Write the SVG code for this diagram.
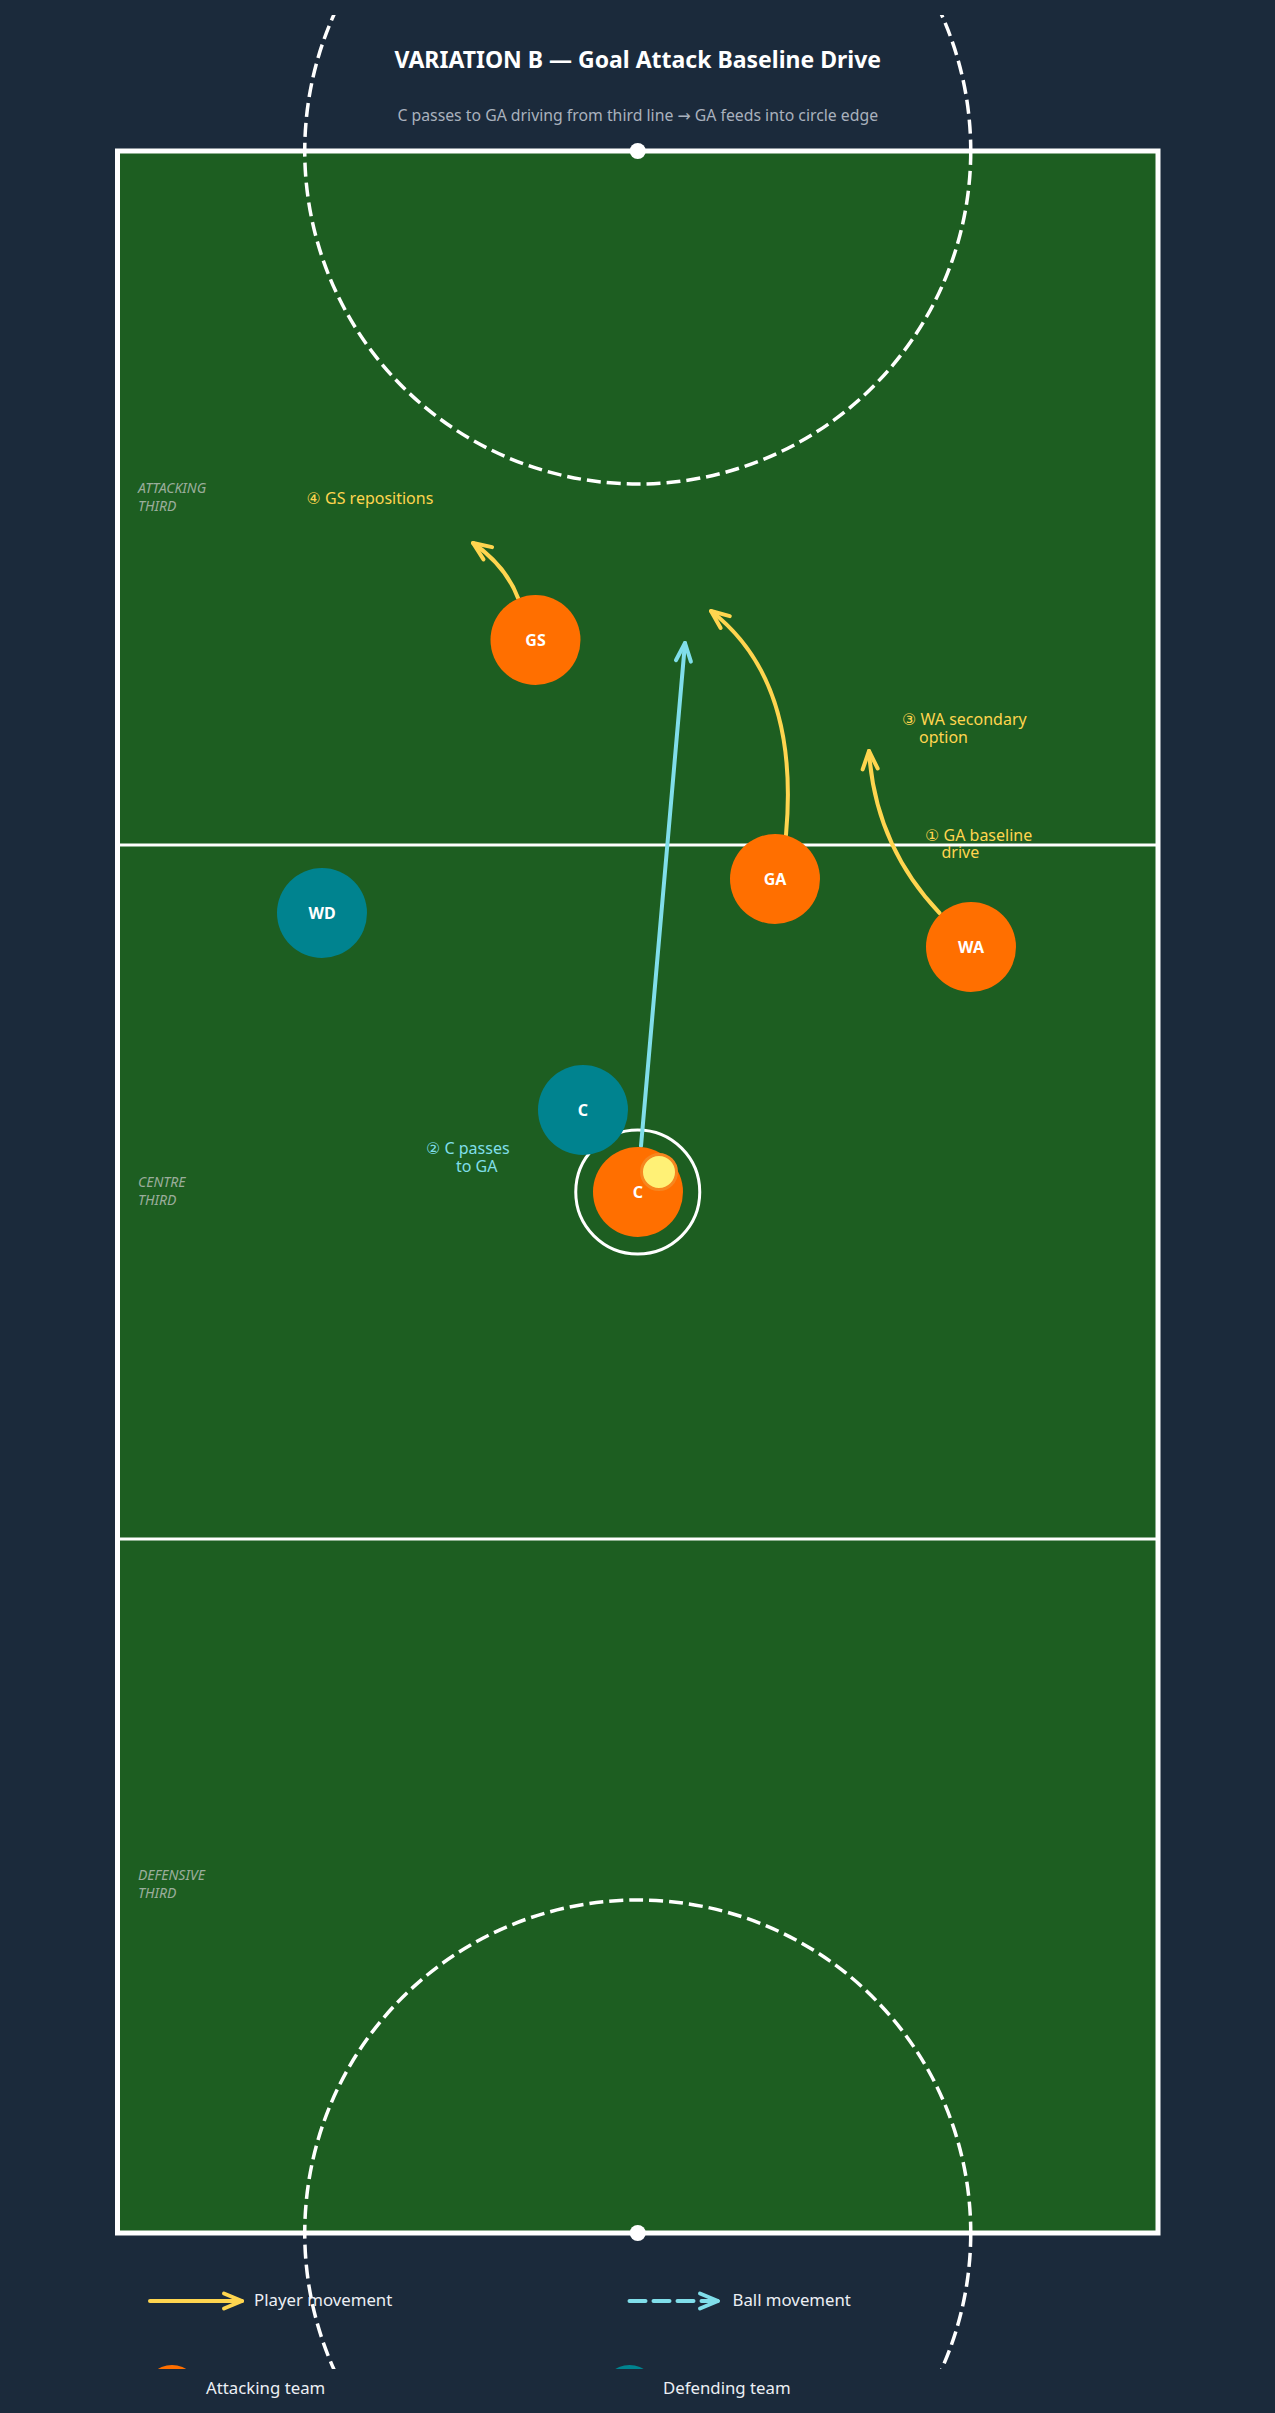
<svg xmlns="http://www.w3.org/2000/svg" width="1275" height="2413" viewBox="0 0 1275 2413">
<style>
.bg{fill:#1b2a3b}
.court{fill:#1d5e21;stroke:#ffffff;stroke-width:5}
.line{stroke:#ffffff;stroke-width:3;fill:none}
.goalc{fill:none;stroke:#ffffff;stroke-width:3.5;stroke-dasharray:14 6}
.att{fill:#ff6f00}
.def{fill:#00838f}
.lbl{font-family:"Noto Sans","DejaVu Sans",sans-serif;font-weight:bold;font-size:16px;fill:#ffffff;text-anchor:middle}
.zone{font-family:"Noto Sans","DejaVu Sans",sans-serif;font-style:italic;font-size:14px;fill:#c4c8c4;opacity:0.75}
.ann{font-family:"Noto Sans","DejaVu Sans",sans-serif;font-size:16px}
.move{fill:none;stroke:#ffd54f;stroke-width:4;stroke-linecap:round}
.ball{fill:none;stroke:#80deea;stroke-width:4;stroke-linecap:round}
.leg{font-family:"Noto Sans","DejaVu Sans",sans-serif;font-size:16.8px;fill:#eceff4}
</style>
<defs>
<clipPath id="clip"><rect x="0" y="15" width="1275" height="2354"/></clipPath>
<marker id="ah-y" markerUnits="userSpaceOnUse" orient="auto" refX="0" refY="0" markerWidth="40" markerHeight="40" viewBox="-20 -20 40 40" overflow="visible">
<path d="M-18,-7.5 L0,0 L-18,7.5" fill="none" stroke="#ffd54f" stroke-width="4" stroke-linecap="round" stroke-linejoin="round"/>
</marker>
<marker id="ah-c" markerUnits="userSpaceOnUse" orient="auto" refX="0" refY="0" markerWidth="40" markerHeight="40" viewBox="-20 -20 40 40" overflow="visible">
<path d="M-18,-7.5 L0,0 L-18,7.5" fill="none" stroke="#80deea" stroke-width="4" stroke-linecap="round" stroke-linejoin="round" stroke-dasharray="none"/>
</marker>
</defs>
<rect class="bg" x="0" y="0" width="1275" height="2413"/>

<g id="title">
<text x="637.75" y="68" text-anchor="middle" font-family="Noto Sans, DejaVu Sans, sans-serif" font-weight="bold" font-size="23" fill="#ffffff">VARIATION B — Goal Attack Baseline Drive</text>
<text x="637.75" y="121" text-anchor="middle" font-family="Noto Sans, DejaVu Sans, sans-serif" font-size="15.8" fill="#a9b1bd">C passes to GA driving from third line → GA feeds into circle edge</text>
</g>

<g id="court">
<rect class="court" x="117.5" y="151" width="1040.5" height="2082"/>
<line class="line" x1="117.5" y1="845" x2="1158" y2="845"/>
<line class="line" x1="117.5" y1="1539" x2="1158" y2="1539"/>
<g clip-path="url(#clip)">
<circle class="goalc" cx="637.75" cy="151" r="333"/>
<circle class="goalc" cx="637.75" cy="2233" r="333"/>
</g>
<circle cx="637.75" cy="151" r="8" fill="#ffffff"/>
<circle cx="637.75" cy="2233" r="8" fill="#ffffff"/>
<circle class="line" cx="637.75" cy="1192" r="62"/>
</g>

<g id="zones">
<text class="zone" x="138" y="493">ATTACKING<tspan x="138" y="511">THIRD</tspan></text>
<text class="zone" x="138" y="1187">CENTRE<tspan x="138" y="1205">THIRD</tspan></text>
<text class="zone" x="138" y="1880">DEFENSIVE<tspan x="138" y="1898">THIRD</tspan></text>
</g>

<g id="connectors">
<path id="move-gs" class="move" d="M518,598 Q506,566 473,543" marker-end="url(#ah-y)"/>
<path id="move-ga" class="move" d="M786,835 Q800,680 711,611" marker-end="url(#ah-y)"/>
<path id="move-wa" class="move" d="M939.5,913 Q875,845 869,751" marker-end="url(#ah-y)"/>
<path id="pass-c-ga" class="ball" d="M641,1146 L685,643" marker-end="url(#ah-c)"/>
</g>

<g id="node-wd"><circle class="def" cx="322" cy="913" r="45"/><text class="lbl" x="322" y="918.5">WD</text></g>
<g id="node-c-def"><circle class="def" cx="583" cy="1110" r="45"/><text class="lbl" x="583" y="1115.5">C</text></g>
<g id="node-gs"><circle class="att" cx="535.5" cy="640" r="45"/><text class="lbl" x="535.5" y="645.5">GS</text></g>
<g id="node-ga"><circle class="att" cx="775" cy="879" r="45"/><text class="lbl" x="775" y="884.5">GA</text></g>
<g id="node-wa"><circle class="att" cx="971" cy="947" r="45"/><text class="lbl" x="971" y="952.5">WA</text></g>
<g id="node-c-att"><circle class="att" cx="638" cy="1192" r="45"/><text class="lbl" x="638" y="1197.5">C</text></g>
<g id="ball"><circle cx="659" cy="1172" r="17.5" fill="#fff176" stroke="#f7861f" stroke-width="3"/></g>

<g id="annotations">
<text class="ann" fill="#ffd54f" x="306.5" y="504">④ GS repositions</text>
<text class="ann" fill="#ffd54f" x="902" y="725">③ WA secondary<tspan x="919" y="743">option</tspan></text>
<text class="ann" fill="#ffd54f" x="925" y="841">① GA baseline<tspan x="941.5" y="858">drive</tspan></text>
<text class="ann" fill="#80deea" x="426" y="1154">② C passes<tspan x="456" y="1172">to GA</tspan></text>
</g>

<g id="legend">
<path class="move" d="M150,2301 L242,2301" stroke-linecap="butt" marker-end="url(#ah-y)"/>
<text class="leg" x="254" y="2306">Player movement</text>
<path class="ball" d="M629.5,2301 L718,2301" stroke-linecap="butt" stroke-dasharray="16 8" marker-end="url(#ah-c)"/>
<text class="leg" x="732.5" y="2306">Ball movement</text>
<g clip-path="url(#clip)">
<circle class="att" cx="172" cy="2392" r="27"/>
<circle class="def" cx="629.5" cy="2392" r="27"/>
</g>
<text class="leg" x="206" y="2394">Attacking team</text>
<text class="leg" x="663" y="2394">Defending team</text>
</g>
</svg>
